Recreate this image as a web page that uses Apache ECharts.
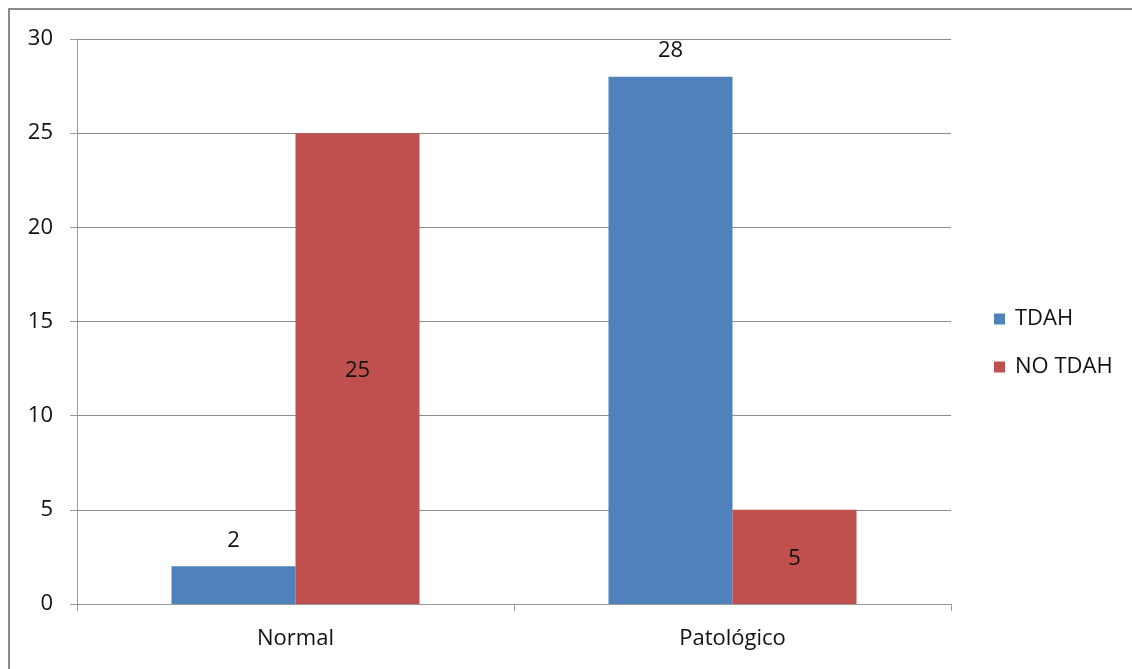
<!DOCTYPE html>
<html>
<head>
<meta charset="utf-8">
<script src="https://cdn.jsdelivr.net/npm/echarts@6/dist/echarts.min.js"></script>
<style>
  html, body { margin: 0; padding: 0; background: #fff; overflow: hidden; }
  #frame { position: absolute; left: 8px; top: 8px; width: 1200px; height: 700px;
           border: 2px solid #8a8a8a; box-sizing: border-box; }
  #chart { position: absolute; left: 0; top: 0; width: 1132px; height: 669px; }
</style>
</head>
<body>
<div id="frame"></div>
<div id="chart"></div>
<script>
const categories = ['Normal', 'Patológico'];
const tdah = [2, 28];
const noTdah = [25, 5];
const yTicks = [0, 5, 10, 15, 20, 25, 30];

const font = 'Open Sans, Noto Sans, sans-serif';
const fs = 22;
const chart = echarts.init(document.getElementById('chart'), null, { renderer: 'canvas' });
chart.setOption({
  animation: false,
  textStyle: { fontFamily: font },
  grid: { left: 77, right: 181, top: 39, bottom: 65, containLabel: false },
  legend: {
    orient: 'vertical',
    left: 989, top: 303,
    itemWidth: 11, itemHeight: 11, itemGap: 26,
    icon: 'rect',
    textStyle: { fontSize: fs, color: '#111', fontFamily: font, padding: [0, 0, 0, 5] },
    data: ['TDAH', 'NO TDAH']
  },
  xAxis: {
    type: 'category',
    data: categories,
    axisLine: { lineStyle: { color: '#9a9a9a', width: 1 } },
    axisTick: { show: true, length: 7, lineStyle: { color: '#9a9a9a' } },
    axisLabel: { fontSize: fs, color: '#111', margin: 24, fontFamily: font }
  },
  yAxis: {
    type: 'value',
    min: yTicks[0], max: yTicks[yTicks.length - 1], interval: 5,
    axisLine: { show: true, lineStyle: { color: '#9a9a9a' } },
    axisTick: { show: true, length: 7, lineStyle: { color: '#9a9a9a' } },
    splitLine: { lineStyle: { color: '#8c8c8c', width: 1 } },
    axisLabel: { fontSize: fs, color: '#111', margin: 24, fontFamily: font }
  },
  series: [
    {
      name: 'TDAH', type: 'bar', data: tdah,
      barWidth: 124, barGap: '0%',
      itemStyle: { color: '#4f81bd' },
      label: { show: true, position: 'top', distance: 15, fontSize: fs, color: '#111', fontFamily: font }
    },
    {
      name: 'NO TDAH', type: 'bar', data: noTdah,
      barWidth: 124,
      itemStyle: { color: '#c0504d' },
      label: { show: true, position: 'inside', offset: [0, 2], fontSize: fs, color: '#111', fontFamily: font }
    }
  ]
});
</script>
</body>
</html>
